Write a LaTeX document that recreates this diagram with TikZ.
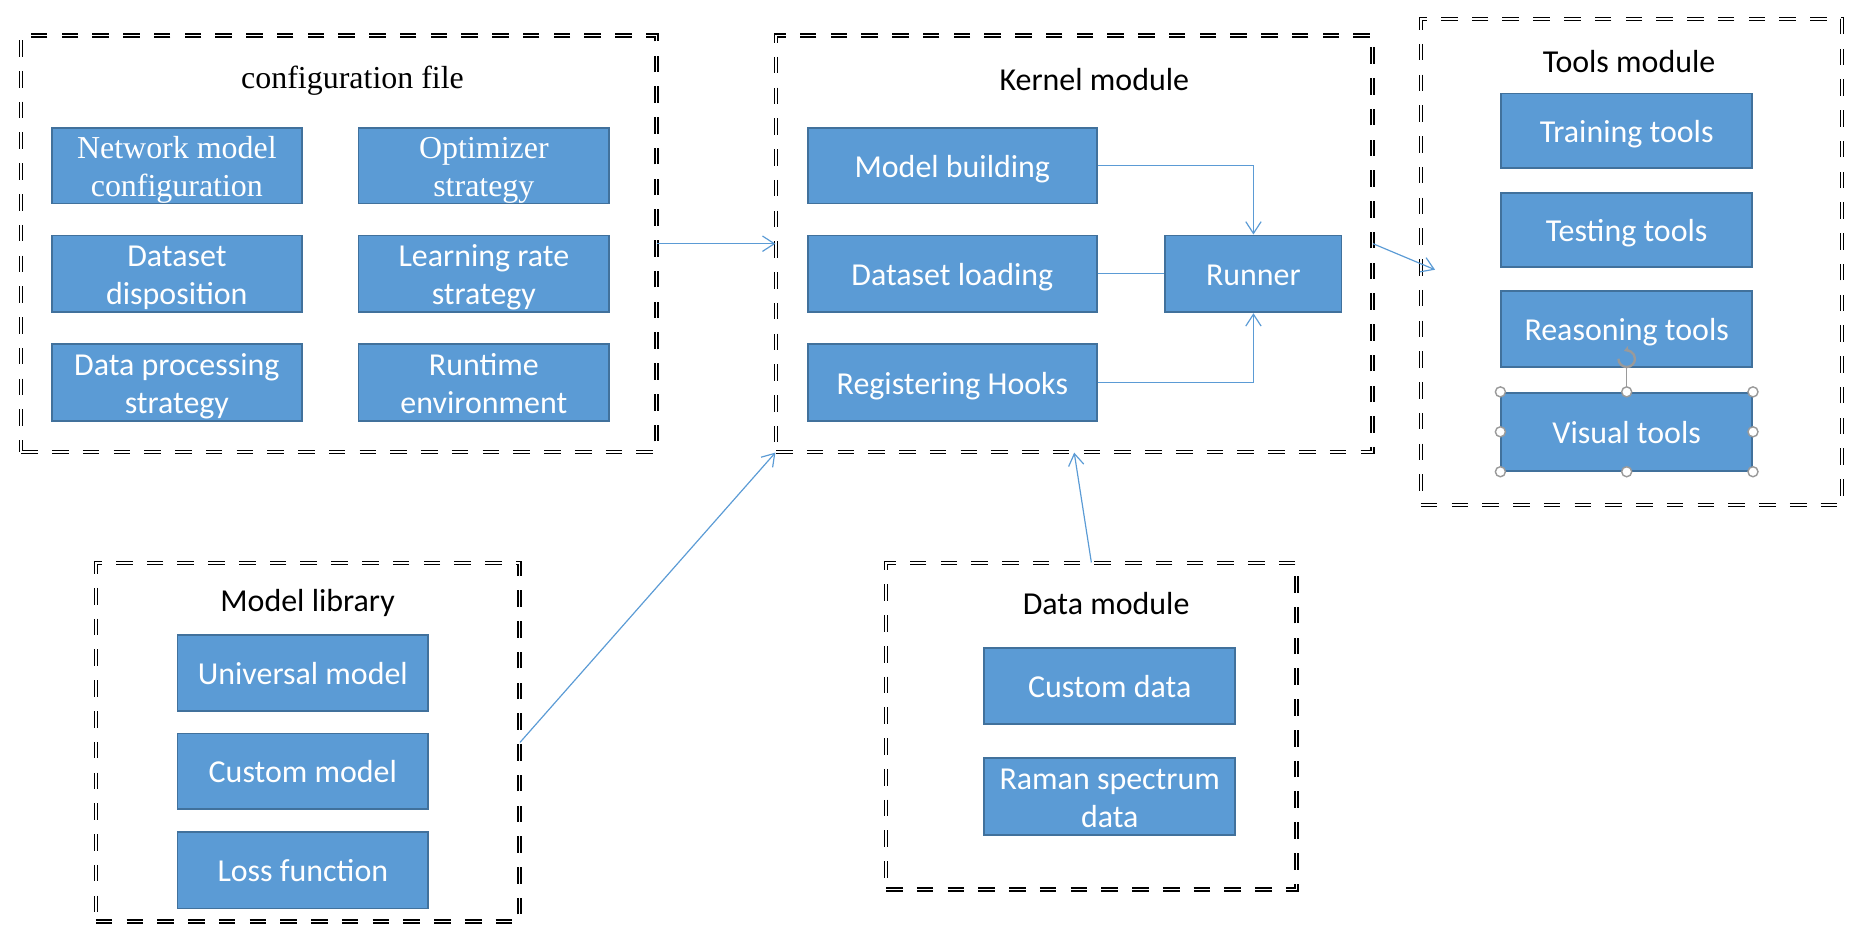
\documentclass[tikz,border=0pt]{standalone}
\usepackage{fontspec}
\setmainfont{Carlito}
\newfontfamily\tnr{Liberation Serif}
\usetikzlibrary{arrows.meta,calc}
\definecolor{boxblue}{HTML}{5B9BD5}
\definecolor{boxedge}{HTML}{41719C}
\definecolor{linkblue}{HTML}{5B9BD5}
\definecolor{handlegray}{HTML}{9A9A9A}
\tikzset{
  frame/.style={draw=black, line width=1.15pt, double=white, double distance=1.4pt,
    dash pattern=on 14pt off 12pt, inner sep=0pt},
  box/.style={draw=boxedge, line width=1.5pt, fill=boxblue, text=white, align=center,
    inner sep=0pt, font=\fontsize{27}{32}\selectfont, text height=25pt, text depth=5.6pt},
  boxtwo/.style={box, text height=57pt, text depth=5.6pt},
  serif/.style={font=\tnr\fontsize{27}{32}\selectfont},
  title/.style={font=\fontsize{27}{32}\selectfont, text=black, inner sep=0pt},
  link/.style={draw=linkblue, line width=1pt},
  arr/.style={link, -{Straight Barb[length=10pt,width=13pt,line width=1pt]}},
  handle/.style={circle, draw=handlegray, fill=white, line width=1.2pt, minimum size=8.5pt, inner sep=0pt}
}
\begin{document}
\begin{tikzpicture}[x=1pt,y=-1pt]
\useasboundingbox (0,0) rectangle (1568,802);

% frames
\node[frame, minimum width=537pt, minimum height=352pt] (config) at (286.5,206) {};
\node[frame, minimum width=504pt, minimum height=352pt] (kernel) at (908,206) {};
\node[frame, minimum width=356pt, minimum height=411pt] (tools) at (1379,221.5) {};
\node[frame, minimum width=358pt, minimum height=303pt] (library) at (260,627.5) {};
\node[frame, minimum width=347pt, minimum height=276pt] (data) at (922.5,614) {};

% titles
\node[title, serif] (tconfig) at (298,68) {configuration file};
\node[title] (tkernel) at (925,67) {Kernel module};
\node[title] (ttools) at (1377,52) {Tools module};
\node[title] (tlibrary) at (260,510) {Model library};
\node[title] (tdata) at (935,510) {Data module};

% configuration boxes
\node[boxtwo, serif, minimum width=211pt, minimum height=64pt] (netcfg) at (149.5,140) {Network model\\configuration};
\node[boxtwo, serif, minimum width=212pt, minimum height=64pt] (optim) at (409,140) {Optimizer\\strategy};
\node[boxtwo, minimum width=211pt, minimum height=65pt] (dsdisp) at (149.5,231.5) {Dataset\\disposition};
\node[boxtwo, minimum width=212pt, minimum height=65pt] (lrate) at (409,231.5) {Learning rate\\strategy};
\node[boxtwo, minimum width=211pt, minimum height=65pt] (dproc) at (149.5,323.5) {Data processing\\strategy};
\node[boxtwo, minimum width=212pt, minimum height=65pt] (runtime) at (409,323.5) {Runtime\\environment};

% kernel boxes
\node[box, minimum width=244pt, minimum height=64pt] (mb) at (805,140) {Model building};
\node[box, minimum width=244pt, minimum height=65pt] (dl) at (805,231.5) {Dataset loading};
\node[box, minimum width=244pt, minimum height=65pt] (rh) at (805,323.5) {Registering Hooks};
\node[box, minimum width=149pt, minimum height=65pt] (runner) at (1059.5,231.5) {Runner};

% tools boxes
\node[box, minimum width=212pt, minimum height=63pt] (tt) at (1375,110.5) {Training tools};
\node[box, minimum width=212pt, minimum height=63pt] (te) at (1375,194.5) {Testing tools};
\node[box, minimum width=212pt, minimum height=64pt] (rt) at (1375,278) {Reasoning tools};
\node[box, minimum width=212pt, minimum height=66pt] (vt) at (1375,365) {Visual tools};

% library boxes
\node[box, minimum width=212pt, minimum height=64pt] (um) at (256,569) {Universal model};
\node[box, minimum width=212pt, minimum height=64pt] (cm) at (256,652) {Custom model};
\node[box, minimum width=212pt, minimum height=65pt] (lf) at (256,735.5) {Loss function};

% data boxes
\node[box, minimum width=212pt, minimum height=64pt] (cd) at (938,580) {Custom data};
\node[boxtwo, minimum width=212pt, minimum height=65pt] (rs) at (938,673.5) {Raman spectrum\\data};

% connectors
\draw[arr] (config.east) -- (kernel.west);
\draw[arr] (mb.east) -| (runner.north);
\draw[link] (dl.east) -- (runner.west);
\draw[arr] (rh.east) -| (runner.south);
\coordinate (toolsin) at (1213,228);
\draw[arr] (kernel.east) -- (toolsin);
\draw[arr] (library.east) -- (kernel.south west);
\draw[arr] (data.north) -- (kernel.south);

% selection handles on Visual tools
\coordinate (rot) at ($(vt.north)+(0,-28)$);
\draw[handlegray, line width=1pt] (vt.north) -- ($(rot)+(0,7)$);
\draw[handlegray, line width=2pt, -{Stealth[length=5pt,width=6pt]}] ($(rot)+(-7,0)$) arc (180:-110:7);
\foreach \a in {north west,north,north east,east,south east,south,south west,west}
  \node[handle] at (vt.\a) {};
\end{tikzpicture}
\end{document}
